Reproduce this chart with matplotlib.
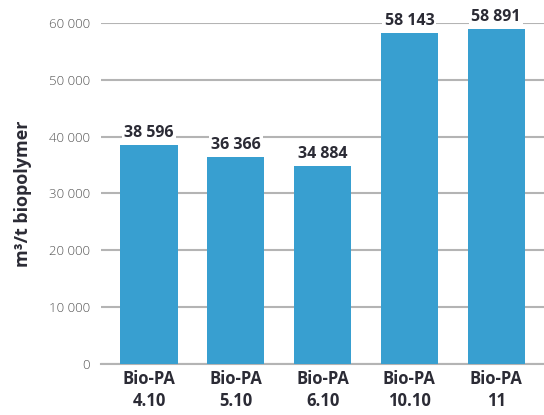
import matplotlib.pyplot as plt

categories = ["Bio-PA\n4.10", "Bio-PA\n5.10", "Bio-PA\n6.10", "Bio-PA\n10.10", "Bio-PA\n11"]
values = [38596, 36366, 34884, 58143, 58891]
yticks = [0, 10000, 20000, 30000, 40000, 50000, 60000]

bar_color = "#389fd0"
text_color = "#2b2b35"
grid_color = "#b4b4b4"

plt.rcParams["font.family"] = ["Open Sans", "DejaVu Sans"]

fig = plt.figure(figsize=(5.44, 4.15), dpi=100)
ax = fig.add_axes([0.186, 0.123, 0.814, 0.822])

x = list(range(len(categories)))
ax.bar(x, values, width=0.66, color=bar_color, zorder=3)

# value labels with white boxes that cut the gridlines
for xi, v in zip(x, values):
    lbl = f"{v:,}".replace(",", " ")
    ax.text(xi, v + 700, lbl, ha="center", va="bottom", fontsize=11.5,
            fontweight="bold", color=text_color, zorder=4, clip_on=False,
            bbox=dict(facecolor="white", edgecolor="none", pad=1.5))

ax.set_xlim(-0.55, 4.55)
ax.set_ylim(0, 60000)
ax.set_yticks(yticks)
ax.set_yticklabels([f"{t:,}".replace(",", " ") for t in yticks],
                   fontsize=9.5, color="#555555", fontweight="light")
ax.set_xticks(x)
ax.set_xticklabels(categories, fontsize=12, fontweight="bold",
                   color=text_color, linespacing=1.3)

ax.yaxis.grid(True, color=grid_color, linewidth=1.5, zorder=0)
ax.set_axisbelow(True)
for s in ["top", "right", "left"]:
    ax.spines[s].set_visible(False)
ax.spines["bottom"].set_color(grid_color)
ax.spines["bottom"].set_linewidth(1.5)
ax.tick_params(axis="both", length=0)
ax.tick_params(axis="y", pad=8)
ax.tick_params(axis="x", pad=4)

ax.set_ylabel("m³/t biopolymer", fontsize=13, fontweight="bold",
              color=text_color, labelpad=12)

fig.savefig("out.png", dpi=100)
